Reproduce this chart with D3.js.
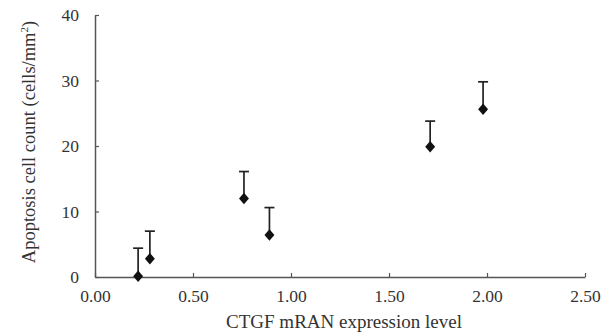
<!DOCTYPE html>
<html>
<head>
<meta charset="utf-8">
<script src="https://cdn.jsdelivr.net/npm/d3@7"></script>
<style>
  body { margin: 0; background: #fff; }
  svg text { font-family: "Liberation Serif", "Times New Roman", serif; fill: #333; }
</style>
</head>
<body>
<div id="chart"></div>
<script>
const expression = [0.22, 0.28, 0.76, 0.89, 1.71, 1.98];
const apoptosis = [0.1, 2.8, 12.0, 6.4, 19.9, 25.6];
const errorUp = [4.3, 4.2, 4.1, 4.2, 3.9, 4.2];
const xTicks = [0, 0.5, 1, 1.5, 2, 2.5];
const yTicks = [0, 10, 20, 30, 40];

const width = 610, height = 333;
const margin = {top: 15, right: 25, bottom: 56, left: 95};

const svg = d3.select("#chart").append("svg")
  .attr("width", width)
  .attr("height", height);

const x = d3.scaleLinear().domain([0, 2.5]).range([margin.left, width - margin.right]);
const y = d3.scaleLinear().domain([0, 40]).range([height - margin.bottom, margin.top]);

// Axes, ticks point inward
const xAxis = svg.append("g")
  .attr("transform", `translate(0,${y(0)})`)
  .call(d3.axisBottom(x).tickValues(xTicks).tickSizeInner(-4).tickSizeOuter(0).tickPadding(13).tickFormat(d3.format(".2f")));
const yAxis = svg.append("g")
  .attr("transform", `translate(${x(0)},0)`)
  .call(d3.axisLeft(y).tickValues(yTicks).tickSizeInner(-4).tickSizeOuter(0).tickPadding(16));

[xAxis, yAxis].forEach(g => {
  g.select(".domain").attr("stroke", "#555").attr("stroke-width", 1.5);
  g.selectAll(".tick line").attr("stroke", "#555").attr("stroke-width", 1.2);
  g.selectAll(".tick text").attr("font-size", 17.5).attr("fill", "#444");
});

// Error bars (upper only)
const err = svg.append("g").attr("stroke", "#222").attr("stroke-width", 1.7);
expression.forEach((e, i) => {
  const cx = x(e);
  const top = y(apoptosis[i] + errorUp[i]);
  err.append("line").attr("x1", cx).attr("x2", cx).attr("y1", y(apoptosis[i])).attr("y2", top);
  err.append("line").attr("x1", cx - 5).attr("x2", cx + 5).attr("y1", top).attr("y2", top);
});

// Diamond markers
svg.append("g").selectAll("path")
  .data(expression)
  .join("path")
  .attr("d", d3.symbol(d3.symbolDiamond, 38))
  .attr("transform", (d, i) => `translate(${x(d)},${y(apoptosis[i])}) scale(1.5,1)`)
  .attr("fill", "#111");

// Axis titles
svg.append("text")
  .attr("x", 344)
  .attr("y", 328)
  .attr("text-anchor", "middle")
  .attr("font-size", 19)
  .text("CTGF mRAN expression level");

const yt = svg.append("text")
  .attr("transform", "translate(35,142) rotate(-90)")
  .attr("text-anchor", "middle")
  .attr("font-size", 18.5);
yt.append("tspan").text("Apoptosis cell count (cells/mm");
yt.append("tspan").attr("font-size", 11).attr("dy", -7).text("2");
yt.append("tspan").attr("dy", 7).text(")");
</script>
</body>
</html>
